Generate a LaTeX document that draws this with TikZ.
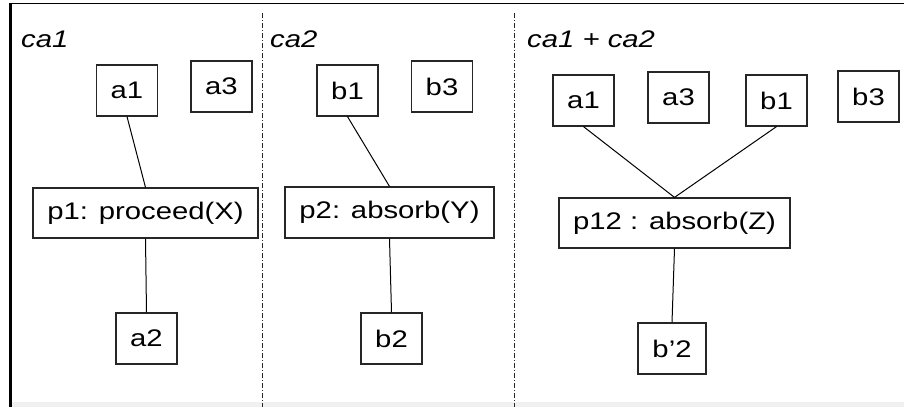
\documentclass[tikz,border=0pt]{standalone}
\usepackage{fontspec}
\setmainfont{Liberation Sans}[FakeStretch=1.22]
\tikzset{box/.style={draw=black!85, line width=1.2pt, minimum width=61pt, minimum height=51pt, inner sep=0pt, font=\fontsize{24}{28}\selectfont}}
\tikzset{title/.style={anchor=base west, inner sep=0pt, font=\fontsize{24}{28}\selectfont\itshape}}
\tikzset{divider/.style={line width=1pt, black!85, dash pattern=on 5pt off 2pt on 1pt off 2pt}}

\begin{document}
\begin{tikzpicture}[x=1pt, y=-1pt]
  \useasboundingbox (0,0) rectangle (904,407);
  \fill [black!6] (12,402) rectangle (904,407);
  \draw [line width=3pt] (10.5,2.8) -- (10.5,407);
  \draw [line width=1.3pt] (9,3.5) -- (904,3.5);
  \draw [divider] (262.5,13) -- (262.5,407);
  \draw [divider] (514,13) -- (514,407);

  % ca1
  \node[title] (t1) at (21,47) {ca1};
  \node[box] (a1) at (127,90.5) {a1};
  \node[box] (a3) at (221.5,86.5) {a3};
  \node[box, minimum width=225pt, minimum height=50pt] (p1) at (145.5,213) {p1: proceed(X)};
  \node[box] (a2) at (146.5,338.5) {a2};
  \draw [line width=1pt] (a1.south) -- (p1.north);
  \draw [line width=1pt] (p1.south) -- (a2.north);

  % ca2
  \node[title] (t2) at (270,47.5) {ca2};
  \node[box] (b1) at (347.5,90.5) {b1};
  \node[box] (b3) at (442,86.5) {b3};
  \node[box, minimum width=209pt] (p2) at (389.5,212.5) {p2: absorb(Y)};
  \node[box] (b2) at (391.5,338.5) {b2};
  \draw [line width=1pt] (b1.south) -- (p2.north);
  \draw [line width=1pt] (p2.south) -- (b2.north);

  % ca1 + ca2
  \node[title] (t3) at (527,47.5) {ca1 + ca2};
  \node[box] (ma1) at (583.5,100.5) {a1};
  \node[box] (ma3) at (678.5,97.5) {a3};
  \node[box] (mb1) at (776.5,100.5) {b1};
  \node[box] (mb3) at (868.5,96.5) {b3};
  \node[box, minimum width=231pt, minimum height=50pt] (p12) at (674.5,223) {p12 : absorb(Z)};
  \node[box, minimum width=68pt] (mb2) at (672,348.5) {b'2};
  \draw [line width=1pt] (ma1.south) -- (p12.north);
  \draw [line width=1pt] (mb1.south) -- (p12.north);
  \draw [line width=1pt] (p12.south) -- (mb2.north);
\end{tikzpicture}
\end{document}
